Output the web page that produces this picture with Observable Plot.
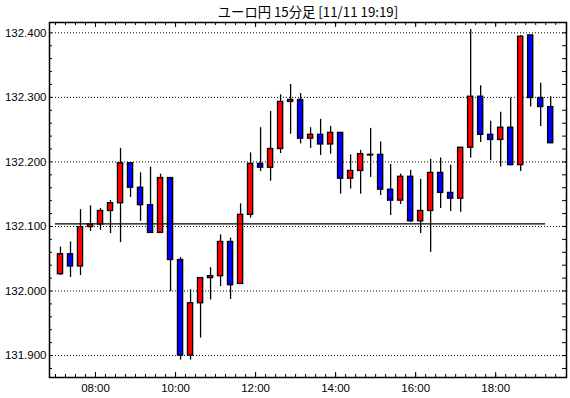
<!DOCTYPE html>
<html>
<head>
<meta charset="utf-8">
<script src="https://cdn.jsdelivr.net/npm/d3@7"></script>
<script src="https://cdn.jsdelivr.net/npm/@observablehq/plot@0.6"></script>
<style>
  html, body { margin: 0; padding: 0; background: #fff; }
  #chart svg { display: block; }
</style>
</head>
<body>
<div id="chart"></div>
<script>
const title = "ユーロ円 15分足 [11/11 19:19]";

const times = ["07:00","07:15","07:30","07:45","08:00","08:15","08:30","08:45",
  "09:00","09:15","09:30","09:45","10:00","10:15","10:30","10:45",
  "11:00","11:15","11:30","11:45","12:00","12:15","12:30","12:45",
  "13:00","13:15","13:30","13:45","14:00","14:15","14:30","14:45",
  "15:00","15:15","15:30","15:45","16:00","16:15","16:30","16:45",
  "17:00","17:15","17:30","17:45","18:00","18:15","18:30","18:45",
  "19:00","19:15"];

const open = [132.026,132.057,132.038,132.099,132.103,132.124,132.136,132.198,
  132.160,132.133,132.090,132.175,132.048,131.900,131.981,132.020,
  132.023,132.076,132.011,132.118,132.197,132.191,132.220,132.293,
  132.296,132.236,132.242,132.227,132.245,132.174,132.186,132.211,
  132.211,132.157,132.140,132.177,132.108,132.124,132.183,132.152,
  132.143,132.222,132.301,132.242,132.234,132.253,132.195,132.396,
  132.299,132.285];

const high = [132.068,132.076,132.126,132.132,132.128,132.140,132.221,132.199,
  132.183,132.192,132.181,132.176,132.052,132.002,132.020,132.036,
  132.087,132.082,132.135,132.214,132.253,132.278,132.304,132.320,
  132.306,132.253,132.266,132.255,132.245,132.211,132.218,132.252,
  132.231,132.196,132.181,132.187,132.173,132.204,132.206,132.195,
  132.222,132.405,132.318,132.263,132.277,132.299,132.396,132.396,
  132.322,132.301];

const low = [132.024,132.021,132.024,132.092,132.094,132.089,132.075,132.145,
  132.108,132.089,132.089,131.999,131.893,131.893,131.927,131.986,
  132.007,131.987,132.011,132.113,132.185,132.170,132.213,132.243,
  132.228,132.221,132.210,132.212,132.150,132.158,132.150,132.176,
  132.148,132.117,132.134,132.106,132.089,132.060,132.128,132.123,
  132.122,132.206,132.230,132.202,132.192,132.194,132.185,132.285,
  132.255,132.228];

const close = [132.057,132.038,132.099,132.103,132.124,132.136,132.198,132.160,
  132.133,132.090,132.175,132.048,131.900,131.981,132.020,132.023,
  132.076,132.009,132.118,132.197,132.191,132.220,132.293,132.296,
  132.236,132.242,132.227,132.245,132.174,132.186,132.212,132.210,
  132.157,132.140,132.177,132.108,132.124,132.183,132.152,132.143,
  132.222,132.301,132.242,132.234,132.253,132.195,132.394,132.299,
  132.285,132.229];

const refLine = [{price: 132.104, from: "07:00", to: "19:15"}];

const xMajorTicks = ["08:00","10:00","12:00","14:00","16:00","18:00"];
const yMajorTicks = [131.9, 132.0, 132.1, 132.2, 132.3, 132.4];
const yMinorTicks = d3.range(13188, 13241, 2).map(v => v / 100);

const toHours = s => { const [h, m] = s.split(":").map(Number); return h + m / 60; };
const step = 0.25;
const xMinorTicks = d3.range(toHours("07:00") * 4, toHours("19:30") * 4 + 1).map(v => v / 4);
const xMajor = xMajorTicks.map(toHours);

const candles = times.map((t, i) => ({
  t: toHours(t), open: open[i], high: high[i], low: low[i], close: close[i]
}));
const refs = refLine.map(r => ({price: r.price, from: toHours(r.from), to: toHours(r.to)}));

const W = 570, H = 398;
const mL = 49, mR = 4, mT = 22, mB = 21;
const fw = W - mL - mR, fh = H - mT - mB;

const plot = Plot.plot({
  width: W,
  height: H,
  marginLeft: mL,
  marginRight: mR,
  marginTop: mT,
  marginBottom: mB,
  style: {background: "#fff", fontFamily: "'Liberation Sans', Arial, sans-serif", fontSize: "11.5px", color: "#000"},
  x: {type: "linear", domain: [6.85, 19.77]},
  y: {domain: [131.866, 132.416]},
  marks: [
    Plot.ruleY(yMajorTicks, {y: d => d, stroke: "#000", strokeWidth: 1, strokeDasharray: "1,2"}),
    // ticks
    Plot.ruleX(xMinorTicks, {x: d => d, insetTop: fh - 3, stroke: "#000"}),
    Plot.ruleX(xMajor, {x: d => d, insetTop: fh - 5, stroke: "#000"}),
    Plot.ruleX(xMinorTicks, {x: d => d, insetBottom: fh - 3, stroke: "#000"}),
    Plot.ruleX(xMajor, {x: d => d, insetBottom: fh - 5, stroke: "#000"}),
    Plot.ruleY(yMinorTicks, {y: d => d, insetRight: fw - 3, stroke: "#000"}),
    Plot.ruleY(yMinorTicks, {y: d => d, insetLeft: fw - 4, stroke: "#000"}),
    // wicks
    Plot.ruleX(candles, {x: d => d.t + step / 2, y1: "low", y2: "high", stroke: "#000", strokeWidth: 1.3}),
    // bodies
    Plot.rect(candles, {
      x1: "t", x2: d => d.t + step,
      y1: d => Math.min(d.open, d.close), y2: d => Math.max(d.open, d.close),
      fill: d => d.close >= d.open ? "#ff0000" : "#0000ff",
      stroke: "#000", strokeWidth: 1.3,
      insetLeft: 2.4, insetRight: 2.4
    }),
    Plot.ruleY(refs, {y: "price", x1: "from", x2: "to", stroke: "#000", strokeWidth: 1.3}),
    Plot.frame({stroke: "#000", strokeWidth: 1.5}),
    Plot.axisX({anchor: "bottom", ticks: xMajor, tickSize: 0, tickPadding: 6,
      tickFormat: d => xMajorTicks[xMajor.indexOf(d)], fontSize: 11.5}),
    Plot.axisY({anchor: "left", ticks: yMajorTicks, tickSize: 0, tickPadding: 3,
      tickFormat: d => d.toFixed(3), fontSize: 11.5}),
    Plot.text([title], {frameAnchor: "top", lineAnchor: "middle", dy: -10, text: d => d, fontSize: 13.3,
      fontFamily: "'Noto Sans CJK JP', sans-serif", fill: "#000"})
  ]
});
document.getElementById("chart").appendChild(plot);
</script>
</body>
</html>
